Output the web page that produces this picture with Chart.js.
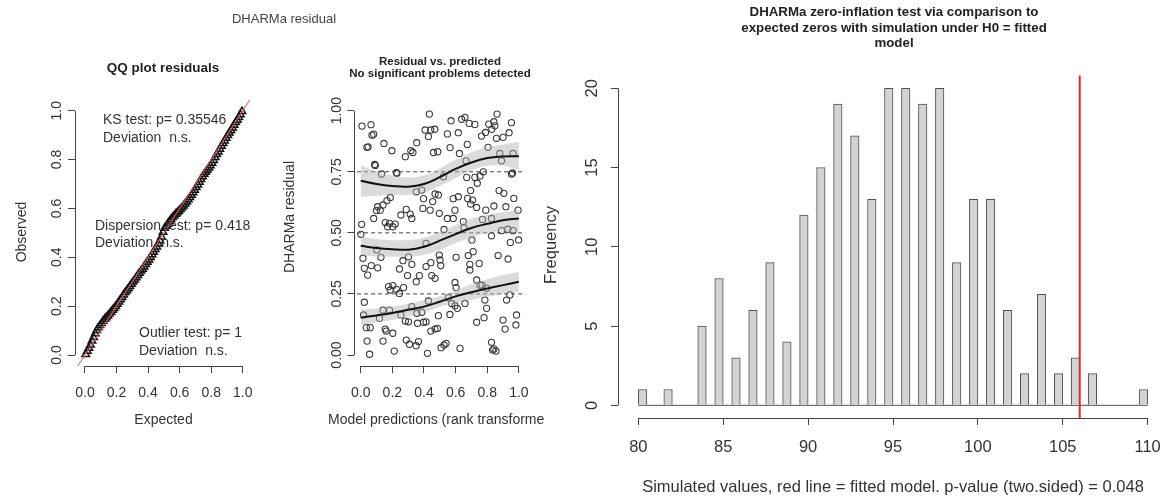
<!DOCTYPE html>
<html>
<head>
<meta charset="utf-8">
<script src="https://cdn.jsdelivr.net/npm/chart.js@4.4.1/dist/chart.umd.min.js"></script>
<style>
  html, body { margin: 0; padding: 0; background: #fff; }
  #wrap { position: relative; width: 1168px; height: 502px; overflow: hidden; background: #fff; }
  #wrap canvas { position: absolute; left: 0; top: 0; }
</style>
</head>
<body>
<div id="wrap">
  <canvas id="qq" width="1168" height="502"></canvas>
  <canvas id="rvp" width="1168" height="502"></canvas>
  <canvas id="zi" width="1168" height="502"></canvas>
</div>
<script>
// ---------- QQ plot of scaled residuals ----------
const qqExpected = [
  0.005, 0.015, 0.025, 0.035, 0.045, 0.055, 0.065, 0.075, 0.085, 0.095,
  0.105, 0.115, 0.125, 0.135, 0.145, 0.155, 0.165, 0.175, 0.185, 0.195,
  0.205, 0.215, 0.225, 0.235, 0.245, 0.255, 0.265, 0.275, 0.285, 0.295,
  0.305, 0.315, 0.325, 0.335, 0.345, 0.355, 0.365, 0.375, 0.385, 0.395,
  0.405, 0.415, 0.425, 0.435, 0.445, 0.455, 0.465, 0.475, 0.485, 0.495,
  0.505, 0.515, 0.525, 0.535, 0.545, 0.555, 0.565, 0.575, 0.585, 0.595,
  0.605, 0.615, 0.625, 0.635, 0.645, 0.655, 0.665, 0.675, 0.685, 0.695,
  0.705, 0.715, 0.725, 0.735, 0.745, 0.755, 0.765, 0.775, 0.785, 0.795,
  0.805, 0.815, 0.825, 0.835, 0.845, 0.855, 0.865, 0.875, 0.885, 0.895,
  0.905, 0.915, 0.925, 0.935, 0.945, 0.955, 0.965, 0.975, 0.985, 0.995
];
const qqObserved = [
  0.003, 0.016, 0.028, 0.042, 0.058, 0.072, 0.088, 0.101, 0.112, 0.121,
  0.130, 0.139, 0.147, 0.153, 0.160, 0.168, 0.176, 0.184, 0.191, 0.199,
  0.208, 0.218, 0.227, 0.236, 0.246, 0.256, 0.264, 0.272, 0.281, 0.290,
  0.299, 0.308, 0.317, 0.326, 0.335, 0.344, 0.352, 0.361, 0.371, 0.380,
  0.390, 0.400, 0.411, 0.421, 0.432, 0.443, 0.455, 0.468, 0.484, 0.503,
  0.519, 0.528, 0.537, 0.546, 0.555, 0.563, 0.570, 0.577, 0.583, 0.589,
  0.596, 0.603, 0.611, 0.619, 0.627, 0.636, 0.645, 0.655, 0.665, 0.675,
  0.686, 0.697, 0.708, 0.719, 0.730, 0.740, 0.749, 0.757, 0.766, 0.775,
  0.786, 0.797, 0.809, 0.821, 0.832, 0.843, 0.855, 0.866, 0.877, 0.888,
  0.899, 0.909, 0.920, 0.930, 0.941, 0.952, 0.962, 0.973, 0.984, 0.997
];
const unitTicks = [0, 0.2, 0.4, 0.6, 0.8, 1.0];
const unitTickLabels = ['0.0', '0.2', '0.4', '0.6', '0.8', '1.0'];
const qqTests = [
  ['KS test: p= 0.35546', 'Deviation  n.s.'],
  ['Dispersion test: p= 0.418', 'Deviation  n.s.'],
  ['Outlier test: p= 1', 'Deviation  n.s.']
];

// ---------- residuals against rank-transformed predictions ----------
const predX = [
  0.434, 0.008, 0.065, 0.071, 0.082, 0.039, 0.047, 0.147, 0.197, 0.088,
  0.092, 0.132, 0.225, 0.229, 0.282, 0.317, 0.330, 0.354, 0.407, 0.443,
  0.428, 0.468, 0.460, 0.487, 0.548, 0.571, 0.617, 0.638, 0.659, 0.686,
  0.722, 0.565, 0.624, 0.674, 0.666, 0.764, 0.789, 0.810, 0.842, 0.862,
  0.829, 0.848, 0.805, 0.858, 0.900, 0.938, 0.953, 0.879, 0.963, 0.890,
  0.775, 0.953, 0.960, 0.670, 0.722, 0.754, 0.737, 0.523, 0.351, 0.386,
  0.397, 0.470, 0.491, 0.455, 0.617, 0.585, 0.695, 0.676, 0.707, 0.695,
  0.733, 0.875, 0.905, 0.968, 0.187, 0.166, 0.141, 0.107, 0.099, 0.123,
  0.082, 0.254, 0.288, 0.313, 0.323, 0.393, 0.439, 0.497, 0.548, 0.585,
  0.596, 0.649, 0.791, 0.842, 0.918, 0.995, 0.827, 0.770, 0.155, 0.182,
  0.203, 0.170, 0.218, 0.006, 0.890, 0.963, 0.930, 0.001, 0.527, 0.653,
  0.827, 0.946, 0.998, 0.413, 0.703, 0.014, 0.102, 0.128, 0.023, 0.044,
  0.067, 0.107, 0.267, 0.302, 0.323, 0.245, 0.296, 0.351, 0.371, 0.413,
  0.443, 0.497, 0.501, 0.506, 0.449, 0.470, 0.603, 0.680, 0.711, 0.690,
  0.690, 0.749, 0.733, 0.754, 0.768, 0.869, 0.932, 0.176, 0.203, 0.225,
  0.245, 0.271, 0.187, 0.596, 0.603, 0.796, 0.023, 0.018, 0.035, 0.060,
  0.119, 0.141, 0.182, 0.254, 0.282, 0.302, 0.323, 0.355, 0.386, 0.359,
  0.397, 0.413, 0.428, 0.443, 0.470, 0.485, 0.491, 0.554, 0.575, 0.564,
  0.596, 0.611, 0.659, 0.733, 0.780, 0.785, 0.796, 0.900, 0.922, 0.943,
  0.985, 0.981, 0.913, 0.155, 0.161, 0.203, 0.040, 0.141, 0.056, 0.212,
  0.288, 0.308, 0.365, 0.350, 0.422, 0.508, 0.540, 0.527, 0.628, 0.827,
  0.842, 0.855, 0.834
];
const predRes = [
  0.986, 0.937, 0.943, 0.900, 0.904, 0.850, 0.852, 0.866, 0.836, 0.780,
  0.776, 0.741, 0.746, 0.744, 0.812, 0.836, 0.829, 0.869, 0.921, 0.921,
  0.894, 0.924, 0.829, 0.832, 0.905, 0.959, 0.910, 0.965, 0.973, 0.948,
  0.944, 0.849, 0.825, 0.862, 0.795, 0.896, 0.911, 0.945, 0.955, 0.986,
  0.924, 0.938, 0.850, 0.887, 0.891, 0.910, 0.951, 0.825, 0.825, 0.795,
  0.750, 0.741, 0.745, 0.727, 0.727, 0.733, 0.703, 0.730, 0.668, 0.675,
  0.640, 0.659, 0.655, 0.628, 0.648, 0.640, 0.673, 0.641, 0.634, 0.618,
  0.604, 0.673, 0.662, 0.641, 0.645, 0.632, 0.614, 0.607, 0.591, 0.593,
  0.559, 0.573, 0.596, 0.577, 0.559, 0.600, 0.593, 0.580, 0.559, 0.559,
  0.593, 0.546, 0.593, 0.610, 0.607, 0.593, 0.559, 0.555, 0.542, 0.539,
  0.525, 0.525, 0.536, 0.535, 0.509, 0.509, 0.515, 0.494, 0.514, 0.521,
  0.488, 0.461, 0.471, 0.457, 0.471, 0.396, 0.430, 0.400, 0.355, 0.327,
  0.366, 0.357, 0.386, 0.402, 0.371, 0.352, 0.325, 0.300, 0.325, 0.362,
  0.378, 0.409, 0.389, 0.366, 0.325, 0.314, 0.400, 0.407, 0.423, 0.371,
  0.348, 0.375, 0.307, 0.286, 0.286, 0.407, 0.393, 0.280, 0.284, 0.269,
  0.252, 0.276, 0.266, 0.297, 0.276, 0.273, 0.216, 0.164, 0.112, 0.112,
  0.150, 0.184, 0.184, 0.164, 0.139, 0.136, 0.198, 0.171, 0.175, 0.130,
  0.134, 0.136, 0.221, 0.098, 0.106, 0.109, 0.161, 0.235, 0.211, 0.166,
  0.202, 0.191, 0.211, 0.134, 0.153, 0.225, 0.191, 0.143, 0.225, 0.246,
  0.164, 0.123, 0.106, 0.106, 0.098, 0.089, 0.057, 0.057, 0.003, 0.016,
  0.061, 0.044, 0.055, 0.038, 0.007, 0.030, 0.048, 0.041, 0.027, 0.052,
  0.025, 0.016, 0.020
];
// quantile regression fits (0.25, 0.5, 0.75) with their confidence bands
const quantX   = [0, 0.1, 0.2, 0.3, 0.4, 0.5, 0.6, 0.7, 0.8, 0.9, 1.0];
const q75      = [0.713, 0.700, 0.692, 0.689, 0.700, 0.728, 0.762, 0.788, 0.806, 0.813, 0.814];
const q75Upper = [0.778, 0.752, 0.735, 0.727, 0.735, 0.763, 0.800, 0.830, 0.850, 0.862, 0.873];
const q75Lower = [0.648, 0.652, 0.655, 0.655, 0.665, 0.692, 0.725, 0.755, 0.775, 0.775, 0.757];
const q50      = [0.447, 0.438, 0.433, 0.431, 0.443, 0.468, 0.495, 0.520, 0.537, 0.552, 0.559];
const q50Upper = [0.484, 0.475, 0.470, 0.471, 0.480, 0.503, 0.533, 0.558, 0.573, 0.585, 0.593];
const q50Lower = [0.407, 0.403, 0.402, 0.402, 0.410, 0.430, 0.458, 0.480, 0.500, 0.505, 0.500];
const q25      = [0.153, 0.162, 0.172, 0.185, 0.198, 0.218, 0.240, 0.257, 0.272, 0.286, 0.300];
const q25Upper = [0.184, 0.190, 0.198, 0.210, 0.225, 0.240, 0.265, 0.290, 0.310, 0.327, 0.341];
const q25Lower = [0.123, 0.133, 0.143, 0.158, 0.175, 0.197, 0.213, 0.225, 0.238, 0.250, 0.259];
const quantLevels = [0.25, 0.5, 0.75];
const residTicks = [0, 0.25, 0.5, 0.75, 1.0];
const residTickLabels = ['0.00', '0.25', '0.50', '0.75', '1.00'];

// ---------- zero-inflation test: simulated number of zeros ----------
const simZeros = [80, 81, 82, 83, 84, 85, 86, 87, 88, 89, 90, 91, 92, 93, 94, 95,
                  96, 97, 98, 99, 100, 101, 102, 103, 104, 105, 106, 107, 108, 109, 110];
const simFreq  = [1, 0, 1, 0, 5, 8, 3, 6, 9, 4, 12, 15, 19, 17, 13, 20,
                  20, 19, 20, 9, 13, 13, 6, 2, 7, 2, 3, 2, 0, 0, 1];
const observedZeros = 106;
const zeroTicks = [80, 85, 90, 95, 100, 105, 110];
const zeroTickLabels = ['80', '85', '90', '95', '100', '105', '110'];
const freqTicks = [0, 5, 10, 15, 20];
const freqTickLabels = ['0', '5', '10', '15', '20'];

// ---------- shared styling ----------
const SANS = '"Liberation Sans", Arial, Helvetica, sans-serif';
const INK = '#333';
const AXIS = '#444';

const align = (p) => Math.round(p - 0.5) + 0.5;

// base-graphics style axes: the line only runs from the first to the last tick
const axisLines = {
  id: 'axisLines',
  afterDraw(chart) {
    const { ctx, chartArea: a } = chart;
    const xs = chart.scales.x, ys = chart.scales.y;
    const xt = xs.ticks, yt = ys.ticks;
    ctx.save();
    ctx.strokeStyle = AXIS;
    ctx.lineWidth = 1;
    ctx.beginPath();
    const yb = align(a.bottom), xl = align(a.left);
    ctx.moveTo(xs.getPixelForValue(xt[0].value), yb);
    ctx.lineTo(xs.getPixelForValue(xt[xt.length - 1].value), yb);
    ctx.moveTo(xl, ys.getPixelForValue(yt[0].value));
    ctx.lineTo(xl, ys.getPixelForValue(yt[yt.length - 1].value));
    ctx.stroke();
    ctx.restore();
  }
};

function textLayer(items) {
  return {
    id: 'textLayer',
    afterDraw(chart) {
      const ctx = chart.ctx;
      items.forEach(it => {
        ctx.save();
        ctx.font = (it.bold ? 'bold ' : '') + it.size + 'px ' + SANS;
        ctx.fillStyle = it.color || INK;
        ctx.textAlign = it.align || 'center';
        ctx.textBaseline = 'middle';
        ctx.translate(it.x, it.y);
        if (it.rot) ctx.rotate(it.rot * Math.PI / 180);
        ctx.fillText(it.text, 0, 0);
        ctx.restore();
      });
    }
  };
}

function rScale(pos, o) {
  const left = pos === 'left';
  return {
    type: 'linear', position: pos, min: o.min, max: o.max, offset: false,
    afterBuildTicks: s => { s.ticks = o.ticks.map(v => ({ value: v })); },
    afterFit: s => {
      if (left) s.width = o.size; else s.height = o.size;
      s.paddingLeft = 0; s.paddingRight = 0; s.paddingTop = 0; s.paddingBottom = 0;
    },
    grid: { offset: false, drawOnChartArea: false, drawTicks: true, tickLength: 7,
            tickWidth: 1, tickColor: AXIS, color: AXIS },
    border: { display: false },
    ticks: {
      autoSkip: false, includeBounds: false, padding: o.pad, color: INK,
      font: { family: SANS, size: o.fs },
      minRotation: left ? 90 : 0, maxRotation: left ? 90 : 0,
      crossAlign: left ? 'center' : 'near',
      callback: (v, i) => o.labels[i]
    }
  };
}

function baseOptions(area, xs, ys) {
  return {
    responsive: false, animation: false, devicePixelRatio: 1, events: [],
    layout: { autoPadding: false, padding: { left: 0, top: area.top, right: 1168 - area.right, bottom: 0 } },
    plugins: { legend: { display: false }, tooltip: { enabled: false }, title: { display: false } },
    scales: {
      x: rScale('bottom', Object.assign({ size: 502 - area.bottom }, xs)),
      y: rScale('left', Object.assign({ size: area.left }, ys))
    }
  };
}

const pts = (xs, ys) => xs.map((x, i) => ({ x, y: ys[i] }));

// ---------- panel 1: QQ plot ----------
new Chart(document.getElementById('qq'), {
  type: 'line',
  data: {
    datasets: [
      { data: [{ x: -0.2, y: -0.2 }, { x: 1.2, y: 1.2 }], borderColor: 'rgba(226,96,96,0.85)',
        borderWidth: 1.2, pointRadius: 0, order: 0 },
      { data: pts(qqExpected, qqObserved), showLine: false, pointStyle: 'triangle',
        pointRadius: 4.3, pointBorderWidth: 1.5, pointBorderColor: '#151515',
        pointBackgroundColor: 'rgba(0,0,0,0)', order: 1 }
    ]
  },
  options: baseOptions({ left: 75, top: 100, right: 252.7, bottom: 366 },
    { min: -0.063, max: 1.063, ticks: unitTicks, labels: unitTickLabels, pad: 12, fs: 14 },
    { min: -0.045, max: 1.0438, ticks: unitTicks, labels: unitTickLabels, pad: 1.3, fs: 14 }),
  plugins: [axisLines, textLayer([
    { text: 'DHARMa residual', x: 284, y: 19, size: 13, color: '#444' },
    { text: 'QQ plot residuals', x: 163, y: 68, size: 13.5, bold: true, color: '#222' },
    { text: qqTests[0][0], x: 103, y: 120, size: 14, align: 'left' },
    { text: qqTests[0][1], x: 103, y: 138.5, size: 14, align: 'left' },
    { text: qqTests[1][0], x: 95, y: 226, size: 14, align: 'left' },
    { text: qqTests[1][1], x: 95, y: 243, size: 14, align: 'left' },
    { text: qqTests[2][0], x: 139, y: 333, size: 14, align: 'left' },
    { text: qqTests[2][1], x: 139, y: 351, size: 14, align: 'left' },
    { text: 'Expected', x: 163.5, y: 420, size: 14 },
    { text: 'Observed', x: 22, y: 232, size: 14, rot: -90 }
  ])]
});

// ---------- panel 2: residual vs. predicted ----------
const curve = (ys) => ({ data: pts(quantX, ys), borderColor: '#111', borderWidth: 2,
                         pointRadius: 0, tension: 0.4, fill: false, order: 1 });
const bandLo = (ys) => ({ data: pts(quantX, ys), borderWidth: 0, borderColor: 'rgba(0,0,0,0)',
                          pointRadius: 0, tension: 0.4, fill: false, order: 3 });
const bandHi = (ys) => ({ data: pts(quantX, ys), borderWidth: 0, borderColor: 'rgba(0,0,0,0)',
                          pointRadius: 0, tension: 0.4, fill: '-1',
                          backgroundColor: 'rgba(175,175,175,0.45)', order: 3 });
const refLine = (q) => ({ data: [{ x: -0.2, y: q }, { x: 1.2, y: q }], borderColor: '#444',
                          borderWidth: 1, borderDash: [4, 3], pointRadius: 0, order: 4 });

new Chart(document.getElementById('rvp'), {
  type: 'line',
  data: {
    datasets: [
      curve(q75), curve(q50), curve(q25),
      bandLo(q75Lower), bandHi(q75Upper),
      bandLo(q50Lower), bandHi(q50Upper),
      bandLo(q25Lower), bandHi(q25Upper),
      ...quantLevels.map(refLine),
      { data: pts(predX, predRes), showLine: false, pointStyle: 'circle', pointRadius: 3.1,
        pointBorderWidth: 1.1, pointBorderColor: '#3a3a3a',
        pointBackgroundColor: 'rgba(0,0,0,0)', order: 5 }
    ]
  },
  options: baseOptions({ left: 354.4, top: 100, right: 525.2, bottom: 366 },
    { min: -0.04, max: 1.04, ticks: unitTicks, labels: unitTickLabels, pad: 12, fs: 14 },
    { min: -0.045, max: 1.0438, ticks: residTicks, labels: residTickLabels, pad: -3, fs: 14 }),
  plugins: [axisLines, textLayer([
    { text: 'Residual vs. predicted', x: 440, y: 62, size: 11.5, bold: true, color: '#222' },
    { text: 'No significant problems detected', x: 440, y: 74, size: 11.5, bold: true, color: '#222' },
    { text: 'DHARMa residual', x: 290, y: 217, size: 14, rot: -90 },
    { text: 'Model predictions (rank transforme', x: 328, y: 420, size: 14, align: 'left' }
  ])]
});

// ---------- panel 3: histogram of simulated zeros ----------
// bins are half a unit wide and right-closed; the lowest bin also takes its left edge
const binCentre = (v, i) => (i === 0 ? v + 0.25 : v - 0.25);

new Chart(document.getElementById('zi'), {
  type: 'bar',
  data: {
    datasets: [
      { type: 'line', data: [{ x: observedZeros, y: -2 }, { x: observedZeros, y: 24 }],
        borderColor: '#e02a2a', borderWidth: 2, pointRadius: 0, order: 0 },
      { type: 'bar', data: simZeros.map((v, i) => ({ x: binCentre(v, i), y: simFreq[i] })),
        backgroundColor: '#d3d3d3', borderColor: '#505050', borderWidth: 1,
        barPercentage: 1, categoryPercentage: 1, order: 1 },
      { type: 'line', data: [{ x: simZeros[0], y: 0 }, { x: simZeros[simZeros.length - 1], y: 0 }],
        borderColor: '#505050', borderWidth: 1, pointRadius: 0, order: 2 }
    ]
  },
  options: baseOptions({ left: 618, top: 75.6, right: 1168, bottom: 418 },
    { min: 78.8, max: 111.2, ticks: zeroTicks, labels: zeroTickLabels, pad: 13, fs: 16.5 },
    { min: -0.8, max: 20.8, ticks: freqTicks, labels: freqTickLabels, pad: 9.8, fs: 16.5 }),
  plugins: [axisLines, textLayer([
    { text: 'DHARMa zero-inflation test via comparison to', x: 894, y: 12.5, size: 13.3, bold: true, color: '#222' },
    { text: 'expected zeros with simulation under H0 = fitted', x: 894, y: 28, size: 13.3, bold: true, color: '#222' },
    { text: 'model', x: 894, y: 43.5, size: 13.3, bold: true, color: '#222' },
    { text: 'Frequency', x: 551, y: 245, size: 16.5, rot: -90 },
    { text: 'Simulated values, red line = fitted model. p-value (two.sided) = 0.048', x: 893, y: 487, size: 16.5 }
  ])]
});
</script>
</body>
</html>
